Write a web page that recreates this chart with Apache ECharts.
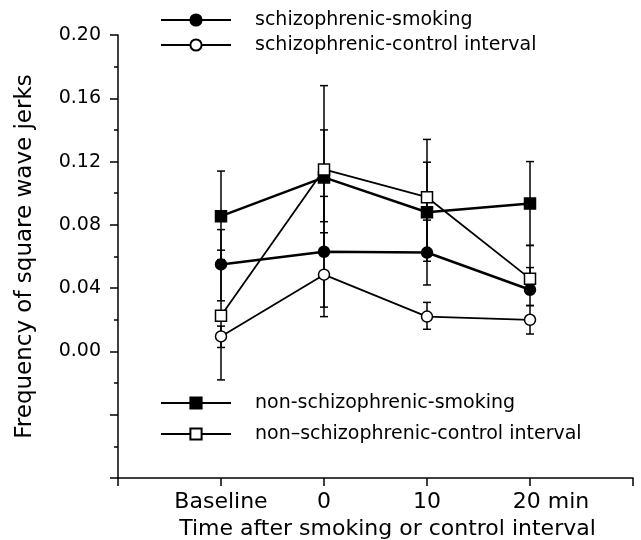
<!DOCTYPE html>
<html>
<head>
<meta charset="utf-8">
<script src="https://cdn.jsdelivr.net/npm/echarts@6.0.0/dist/echarts.min.js"></script>
<style>html,body{margin:0;padding:0;background:#fff;}#chart{width:641px;height:540px;}</style>
</head>
<body>
<div id="chart"></div>
<script>
// time positions (Baseline, 0, 10, 20 min)
const timePoints = [-10, 0, 10, 20];
const xTickLabels = {"-10": "Baseline", "0": "0", "10": "10", "20": "20 min"};

const schizSmoking      = [0.055, 0.063, 0.0625, 0.039];
const schizSmokingHigh  = [0.077, 0.098, 0.083, 0.053];
const schizSmokingLow   = [0.032, 0.028, 0.042, 0.029];

const schizControl      = [0.0095, 0.0485, 0.022, 0.020];
const schizControlHigh  = [0.016, 0.075, 0.031, 0.029];
const schizControlLow   = [0.0025, 0.022, 0.014, 0.011];

const nonSmoking        = [0.0855, 0.110, 0.088, 0.0935];
const nonSmokingHigh    = [0.114, 0.140, 0.1196, 0.120];
const nonSmokingLow     = [0.058, 0.082, 0.057, 0.067];

const nonControl        = [0.0225, 0.115, 0.0975, 0.046];
const nonControlHigh    = [0.064, 0.168, 0.134, 0.067];
const nonControlLow     = [-0.018, 0.062, 0.060, 0.039];

const names = [
  "schizophrenic-smoking",
  "schizophrenic-control interval",
  "non-schizophrenic-smoking",
  "non\u2013schizophrenic-control interval"
];

const FONT = "DejaVu Sans";
const pair = (vals) => timePoints.map((t, i) => [t, vals[i]]);
const bars = [];
[[schizSmokingLow, schizSmokingHigh], [schizControlLow, schizControlHigh],
 [nonSmokingLow, nonSmokingHigh], [nonControlLow, nonControlHigh]].forEach(([lo, hi]) => {
  timePoints.forEach((t, i) => bars.push([t, lo[i], hi[i]]));
});

function lineSeries(name, data, symbol, filled, width) {
  return {
    name: name, type: 'line', data: pair(data),
    symbol: symbol, symbolSize: 11, showSymbol: true,
    lineStyle: {color: '#000', width: width},
    itemStyle: {color: filled ? '#000' : '#fff', borderColor: '#000', borderWidth: 1.5},
    z: 3, animation: false
  };
}

const legendText = {fontFamily: FONT, fontSize: 19, color: '#000', lineHeight: 20, padding: [0, 0, 0, 19]};

const chart = echarts.init(document.getElementById('chart'), null, {renderer: 'canvas'});
chart.setOption({
  backgroundColor: '#fff',
  animation: false,
  grid: {left: 118, right: 8, top: 35, bottom: 62, containLabel: false, outerBoundsMode: 'none'},
  legend: [
    {
      data: [names[0], names[1]], orient: 'vertical', left: 160, top: 10, padding: 0,
      itemWidth: 70, itemHeight: 14, itemGap: 5,
      textStyle: legendText, selectedMode: false
    },
    {
      data: [names[2], names[3]], orient: 'vertical', left: 160, top: 393, padding: 0,
      itemWidth: 70, itemHeight: 14, itemGap: 11,
      textStyle: legendText, selectedMode: false
    }
  ],
  xAxis: {
    type: 'value', min: -20, max: 30, interval: 10,
    axisLine: {onZero: false, lineStyle: {color: '#000', width: 1.5}},
    axisTick: {show: true, length: 8, lineStyle: {color: '#000', width: 1.5}},
    splitLine: {show: false},
    axisLabel: {
      margin: 13, color: '#000', fontFamily: FONT, fontSize: 22,
      formatter: function (v) {
        const s = xTickLabels[String(v)];
        if (!s) return '';
        if (v === 20) return '{m|' + s + '}';
        return s;
      },
      rich: {m: {fontFamily: FONT, fontSize: 22, color: '#000', padding: [0, 0, 0, 42]}}
    },
    name: 'Time after smoking or control interval',
    nameLocation: 'middle', nameGap: 27,
    nameTextStyle: {fontFamily: FONT, fontSize: 22, color: '#000', padding: [0, 0, 0, 24]}
  },
  yAxis: {
    type: 'value', min: -0.08, max: 0.20, interval: 0.04,
    axisLine: {show: true, onZero: false, lineStyle: {color: '#000', width: 1.5}},
    axisTick: {show: true, length: 8, lineStyle: {color: '#000', width: 1.5}},
    minorTick: {show: true, splitNumber: 2, length: 4, lineStyle: {color: '#000', width: 1.5}},
    splitLine: {show: false},
    axisLabel: {
      margin: 17, color: '#000', fontFamily: FONT, fontSize: 19,
      formatter: function (v) { return v < -1e-9 ? '' : v.toFixed(2); }
    },
    name: 'Frequency of square wave jerks',
    nameLocation: 'middle', nameGap: 81, nameRotate: 90,
    nameTextStyle: {fontFamily: FONT, fontSize: 23, color: '#000'}
  },
  series: [
    {
      type: 'custom', name: 'errors', data: bars, z: 2,
      encode: {x: 0, y: [1, 2]},
      renderItem: function (params, api) {
        const lo = api.coord([api.value(0), api.value(1)]);
        const hi = api.coord([api.value(0), api.value(2)]);
        const w = 4;
        const st = {stroke: '#000', lineWidth: 1.5};
        return {type: 'group', children: [
          {type: 'line', shape: {x1: hi[0], y1: hi[1], x2: lo[0], y2: lo[1]}, style: st},
          {type: 'line', shape: {x1: hi[0] - w, y1: hi[1], x2: hi[0] + w, y2: hi[1]}, style: st},
          {type: 'line', shape: {x1: lo[0] - w, y1: lo[1], x2: lo[0] + w, y2: lo[1]}, style: st}
        ]};
      }
    },
    lineSeries(names[0], schizSmoking, 'circle', true, 2.5),
    lineSeries(names[1], schizControl, 'circle', false, 1.8),
    lineSeries(names[2], nonSmoking, 'rect', true, 2.5),
    lineSeries(names[3], nonControl, 'rect', false, 1.8)
  ]
});
</script>
</body>
</html>
